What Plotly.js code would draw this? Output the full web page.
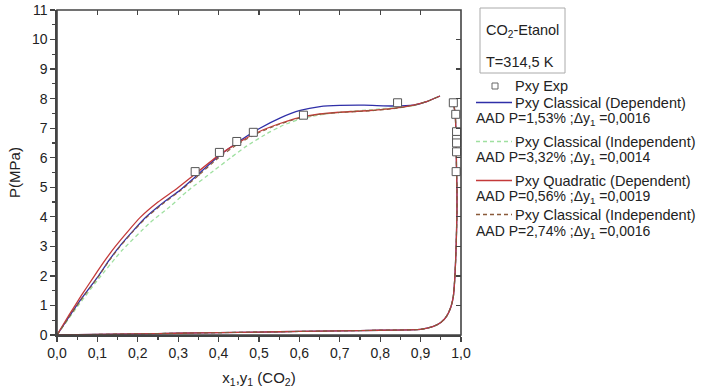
<!DOCTYPE html>
<html>
<head>
<meta charset="utf-8">
<script src="https://cdn.plot.ly/plotly-3.0.1.min.js"></script>
<style>
  html, body { margin: 0; padding: 0; background: #fff; }
  #chart { width: 703px; height: 391px; }
</style>
</head>
<body>
<div id="chart"></div>
<script>
// CO2 - Etanol phase equilibrium, T = 314.5 K

// Experimental points (x1 / y1, P in MPa)
const expX = [0.342, 0.402, 0.445, 0.486, 0.610, 0.843, 0.981, 0.987, 0.989, 0.989, 0.989, 0.989, 0.988];
const expP = [5.53, 6.18, 6.55, 6.86, 7.44, 7.86, 7.86, 7.47, 6.88, 6.62, 6.50, 6.20, 5.53];

// Bubble curves of each model
const classDepX = [0, 0.03, 0.06, 0.10, 0.13, 0.155, 0.19, 0.221, 0.26, 0.305, 0.342, 0.40, 0.45, 0.50, 0.553, 0.602, 0.651, 0.70, 0.76, 0.833, 0.882, 0.915, 0.948];
const classDepP = [0, 0.62, 1.22, 1.95, 2.55, 3.00, 3.55, 4.00, 4.45, 4.91, 5.35, 6.05, 6.55, 6.98, 7.35, 7.60, 7.73, 7.77, 7.78, 7.75, 7.78, 7.90, 8.09];

const classIndX = [0, 0.05, 0.10, 0.16, 0.23, 0.28, 0.321, 0.387, 0.43, 0.47, 0.52, 0.56, 0.60, 0.65, 0.70, 0.80, 0.882, 0.915, 0.948];
const classIndP = [0, 0.95, 1.85, 2.85, 3.80, 4.35, 4.85, 5.55, 6.00, 6.40, 6.82, 7.10, 7.30, 7.45, 7.54, 7.65, 7.76, 7.90, 8.09];

const quadDepX = [0, 0.03, 0.06, 0.091, 0.12, 0.144, 0.175, 0.206, 0.25, 0.297, 0.342, 0.40, 0.45, 0.50, 0.55, 0.60, 0.65, 0.70, 0.767, 0.833, 0.882, 0.915, 0.948];
const quadDepP = [0, 0.68, 1.33, 1.97, 2.55, 2.99, 3.50, 3.98, 4.50, 4.96, 5.45, 6.08, 6.52, 6.88, 7.15, 7.36, 7.48, 7.54, 7.59, 7.67, 7.78, 7.90, 8.09];

const classInd2X = [0, 0.03, 0.06, 0.10, 0.13, 0.155, 0.19, 0.221, 0.26, 0.305, 0.342, 0.40, 0.45, 0.50, 0.55, 0.60, 0.65, 0.70, 0.767, 0.833, 0.882, 0.915, 0.948];
const classInd2P = [0, 0.61, 1.20, 1.93, 2.53, 2.98, 3.53, 3.97, 4.42, 4.88, 5.30, 6.00, 6.48, 6.85, 7.13, 7.34, 7.47, 7.53, 7.58, 7.66, 7.77, 7.90, 8.09];

// Dew curve (shared by all models; they overlap)
const dewX = [0, 0.10, 0.20, 0.30, 0.40, 0.50, 0.60, 0.70, 0.80, 0.90, 0.93, 0.95, 0.965, 0.975, 0.981, 0.985, 0.988, 0.990, 0.990, 0.989, 0.988, 0.986, 0.981];
const dewP = [0, 0.02, 0.04, 0.06, 0.08, 0.10, 0.12, 0.14, 0.16, 0.19, 0.28, 0.42, 0.65, 0.95, 1.30, 2.00, 3.00, 4.20, 4.90, 5.50, 6.50, 7.40, 7.95];

// Axis ticks
const xTickVals = [0, 0.1, 0.2, 0.3, 0.4, 0.5, 0.6, 0.7, 0.8, 0.9, 1.0];
const xTickText = ['0,0', '0,1', '0,2', '0,3', '0,4', '0,5', '0,6', '0,7', '0,8', '0,9', '1,0'];
const yTickVals = [0, 1, 2, 3, 4, 5, 6, 7, 8, 9, 10, 11];
const yTickText = yTickVals.map(String);

// Legend texts
const boxLines = ['CO<sub>2</sub>-Etanol', 'T=314,5 K'];
const legendNames = ['Pxy Exp', 'Pxy Classical (Dependent)', 'Pxy Classical (Independent)', 'Pxy Quadratic (Dependent)', 'Pxy Classical (Independent)'];
const aadTexts = ['AAD P=1,53% ;\u0394y<sub>1</sub> =0,0016', 'AAD P=3,32% ;\u0394y<sub>1</sub> =0,0014',
                  'AAD P=0,56% ;\u0394y<sub>1</sub> =0,0019', 'AAD P=2,74% ;\u0394y<sub>1</sub> =0,0016'];

const FONT = 'Liberation Sans, Arial, sans-serif';
const cBlue = '#2f2fa8', cGreen = '#9fe0a0', cRed = '#c43a3a', cBrown = '#8a5a3a';
const shortDash = '4px,3px';

function joined(bx, by) {
  return { x: bx.concat([null], dewX), y: by.concat([null], dewP) };
}

const models = [
  { d: joined(classIndX, classIndP), color: cGreen, dash: shortDash, w: 1.3 },
  { d: joined(classDepX, classDepP), color: cBlue, dash: 'solid', w: 1.3 },
  { d: joined(quadDepX, quadDepP), color: cRed, dash: 'solid', w: 1.3 },
  { d: joined(classInd2X, classInd2P), color: cBrown, dash: shortDash, w: 1.1 }
];

const traces = models.map(m => ({
  type: 'scatter', mode: 'lines', x: m.d.x, y: m.d.y,
  connectgaps: false, line: { color: m.color, dash: m.dash, width: m.w, shape: 'spline', smoothing: 0.5 },
  hoverinfo: 'skip', showlegend: false, cliponaxis: false
}));

traces.push({
  type: 'scatter', mode: 'markers', x: expX, y: expP, showlegend: false, cliponaxis: false,
  marker: { symbol: 'square', size: 8, color: '#ffffff', line: { color: '#555555', width: 1 } }
});

// frame axes (top / right) carrying the inward ticks
traces.push({ type: 'scatter', x: [], y: [], xaxis: 'x2', yaxis: 'y2', showlegend: false });

const axisCommon = {
  showgrid: false, zeroline: false, showline: true, linecolor: '#444', linewidth: 1.6,
  tickcolor: '#444', tickfont: { family: FONT, size: 14, color: '#222' }
};

// pixel helpers for the side legend
const W = 703, H = 391, L = 57, R = 242, T = 10, B = 56;
const pw = W - L - R, ph = H - T - B;
const px = v => (v - L) / pw;
const py = v => (H - B - v) / ph;

const shapes = [
  { type: 'rect', xref: 'paper', yref: 'paper', x0: 0, x1: 1, y0: 0, y1: 1, line: { color: '#444', width: 1.6 } },
  { type: 'rect', xref: 'paper', yref: 'paper', x0: px(480), x1: px(565), y0: py(73), y1: py(8),
    line: { color: '#aaaaaa', width: 1 }, fillcolor: 'rgba(0,0,0,0)' },
  { type: 'rect', xref: 'paper', yref: 'paper', x0: px(492), x1: px(498), y0: py(89), y1: py(83),
    line: { color: '#666', width: 1 }, fillcolor: '#fff' }
];

const entryY = [102.5, 141.5, 180.5, 214.5];
const sampleStyle = [
  { color: cBlue, dash: 'solid' }, { color: cGreen, dash: shortDash },
  { color: cRed, dash: 'solid' }, { color: cBrown, dash: shortDash }
];
entryY.forEach((yy, i) => {
  shapes.push({ type: 'line', xref: 'paper', yref: 'paper', x0: px(476), x1: px(512), y0: py(yy), y1: py(yy),
    line: { color: sampleStyle[i].color, dash: sampleStyle[i].dash, width: 1.3 } });
});

const annotations = [];
const txt = (x, y, text, size) => annotations.push({
  xref: 'paper', yref: 'paper', x: px(x), y: py(y), xanchor: 'left', yanchor: 'middle',
  text: text, showarrow: false, font: { family: FONT, size: size, color: '#222' }
});
txt(484, 31, boxLines[0], 14.5);
txt(484, 62, boxLines[1], 14.5);
txt(513, 86, legendNames[0], 14.5);
entryY.forEach((yy, i) => {
  txt(513, yy, legendNames[i + 1], 14.5);
  txt(474, yy + 17, aadTexts[i], 14);
});

const layout = {
  width: W, height: H,
  margin: { l: L, r: R, t: T, b: B },
  paper_bgcolor: '#fff', plot_bgcolor: '#fff',
  font: { family: FONT, color: '#222' },
  showlegend: false,
  xaxis: Object.assign({}, axisCommon, {
    range: [0, 1], tickvals: xTickVals, ticktext: xTickText, ticks: 'outside', ticklen: 5, tickwidth: 1.3,
    minor: { tickvals: [0.05, 0.15, 0.25, 0.35, 0.45, 0.55, 0.65, 0.75, 0.85, 0.95], ticks: 'outside', ticklen: 3, tickcolor: '#444', tickwidth: 1.2 },
    title: { text: 'x<sub>1</sub>,y<sub>1</sub> (CO<sub>2</sub>)', font: { family: FONT, size: 15, color: '#222' }, standoff: 12 }
  }),
  yaxis: Object.assign({}, axisCommon, {
    range: [0, 11], tickvals: yTickVals, ticktext: yTickText, ticks: 'outside', ticklen: 5, tickwidth: 1.3,
    minor: { tickvals: [0.5, 1.5, 2.5, 3.5, 4.5, 5.5, 6.5, 7.5, 8.5, 9.5, 10.5], ticks: 'outside', ticklen: 3, tickcolor: '#444', tickwidth: 1.2 },
    title: { text: 'P(MPa)', font: { family: FONT, size: 15, color: '#222' }, standoff: 8 }
  }),
  xaxis2: { overlaying: 'x', side: 'top', range: [0, 1], tickvals: xTickVals, showticklabels: false,
    ticks: 'inside', ticklen: 5, tickcolor: '#444', tickwidth: 1.3, showgrid: false, zeroline: false, showline: false },
  yaxis2: { overlaying: 'y', side: 'right', range: [0, 11], tickvals: yTickVals, showticklabels: false,
    ticks: 'inside', ticklen: 5, tickcolor: '#444', tickwidth: 1.3, showgrid: false, zeroline: false, showline: false },
  shapes: shapes,
  annotations: annotations
};

Plotly.newPlot('chart', traces, layout, { staticPlot: true, displayModeBar: false });
</script>
</body>
</html>
